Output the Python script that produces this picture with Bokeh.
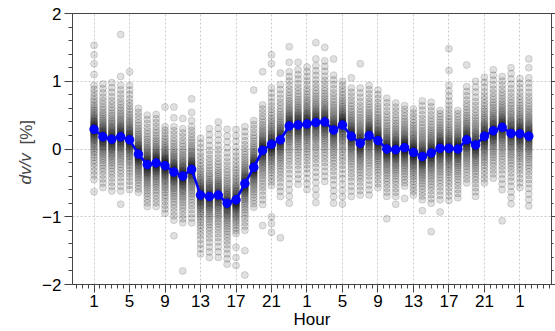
import numpy as np
from bokeh.plotting import figure
from bokeh.models import FixedTicker, LinearAxis, Range1d, Label, ColumnDataSource
from bokeh.embed import file_html
from bokeh.resources import INLINE

# ---------------- data ----------------
hour_of_day = list(range(1, 25)) + list(range(1, 25)) + [1, 2]

mean_dvv = [0.29, 0.18, 0.145, 0.18, 0.135, -0.075, -0.23, -0.205, -0.245, -0.34,
            -0.40, -0.30, -0.68, -0.70, -0.68, -0.80, -0.75, -0.51, -0.27, -0.02,
            0.07, 0.135, 0.34, 0.355, 0.37, 0.39, 0.40, 0.28, 0.355, 0.19,
            0.085, 0.20, 0.125, 0.0, -0.01, 0.02, -0.05, -0.11, -0.06, 0.01,
            0.01, 0.0, 0.135, 0.06, 0.19, 0.27, 0.32, 0.23, 0.225, 0.19]

core_hi = [0.94, 0.96, 0.98, 0.94, 0.94, 0.60, 0.50, 0.51, 0.33, 0.33,
           0.30, 0.33, 0.16, 0.30, 0.40, 0.29, 0.29, 0.33, 0.42, 0.65,
           0.90, 0.95, 1.14, 1.17, 1.14, 1.23, 1.30, 1.09, 0.94, 0.90,
           0.90, 0.94, 0.87, 0.75, 0.68, 0.64, 0.59, 0.71, 0.69, 0.57,
           0.94, 0.57, 0.92, 1.00, 1.06, 1.17, 1.07, 1.20, 1.04, 1.05]

core_lo = [-0.45, -0.57, -0.62, -0.62, -0.60, -0.64, -0.85, -0.85, -0.95, -1.05,
           -1.09, -1.09, -1.55, -1.60, -1.60, -1.70, -1.25, -1.20, -0.86, -0.82,
           -0.54, -0.70, -0.80, -0.52, -0.60, -0.79, -0.48, -0.80, -0.81, -0.70,
           -0.68, -0.68, -0.57, -0.70, -0.70, -0.55, -0.68, -0.75, -0.80, -0.75,
           -0.76, -0.72, -0.50, -0.70, -0.50, -0.43, -0.60, -0.81, -0.57, -0.84]

# density profile of the daily samples inside each hour's band (fraction of band half-width)
spread_profile = [0.0, 0.01, 0.02, 0.03, 0.04, 0.05, 0.06, 0.08, 0.09, 0.11, 0.12,
                  0.14, 0.16, 0.18, 0.2, 0.22, 0.25, 0.28, 0.31, 0.34, 0.38, 0.42,
                  0.46, 0.51, 0.56, 0.62, 0.68, 0.75, 0.83, 0.91, 1.0]

outlier_col = [0, 0, 0, 0, 0, 3, 3, 3, 4, 8, 9, 9, 9, 10, 10, 11, 11, 11,
               16, 16, 16, 17, 17, 18, 19, 19, 20, 20, 20, 20, 20, 21, 21,
               22, 22, 23, 24, 25, 25, 26, 27, 28, 29, 30,
               33, 34, 35, 37, 38, 39, 40, 40, 42, 46, 49, 49]
outlier_val = [1.53, 1.39, 1.26, 1.10, -0.63, 1.69, 1.07, -0.815, 1.14, 0.62, 0.62, 0.46, -1.28,
               0.45, -1.80, 0.74, 0.54, 0.42,
               -1.45, -1.60, -1.72, -1.50, -1.86, 0.87, 1.14, -1.13, 1.39, 1.26, -1.0, -1.1, -1.23,
               1.12, -1.31, 1.51, 1.28, 1.28, 1.21, 1.57, 1.33, 1.50, 1.33, 1.0, 1.05, 1.26,
               -1.03, -0.815, -0.73, -0.91, -1.22, -0.93, 1.48, 1.16, 1.24, -1.06, 1.33, 1.2]

tick_labels = ["1", "5", "9", "13", "17", "21", "1", "5", "9", "13", "17", "21", "1"]
y_ticks = [-2, -1, 0, 1, 2]
y_tick_labels = ["\u22122", "\u22121", "0", "1", "2"]

# ---------------- build ----------------
xs = list(range(len(mean_dvv)))
sx, sy = [], []
for i, m in enumerate(mean_dvv):
    for f in spread_profile:
        sx.append(i); sy.append(m + f * (core_hi[i] - m))
        sx.append(i); sy.append(m - f * (m - core_lo[i]))
for c, v in zip(outlier_col, outlier_val):
    sx.append(c); sy.append(v)

FONT = "Liberation Sans"

p = figure(width=555, height=331, output_backend="svg", toolbar_location=None,
           x_range=Range1d(-2.43, 51.56), y_range=Range1d(-2, 2),
           min_border_left=72, min_border_right=0, min_border_top=13, min_border_bottom=0)

p.scatter(sx, sy, size=7, fill_color="black", fill_alpha=0.12,
          line_color="black", line_alpha=0.17, line_width=0.8)

src = ColumnDataSource(dict(x=xs, y=mean_dvv, hour=hour_of_day))
p.line("x", "y", source=src, line_color="#0000ff", line_width=2.6)
p.scatter("x", "y", source=src, size=8.5, fill_color="#0000ff", line_color="#0000ff")

major_x = list(range(0, 49, 4))
minor_x = list(np.arange(-2, 52, 4 / 6))
p.xaxis.ticker = FixedTicker(ticks=major_x, minor_ticks=minor_x)
p.xaxis.major_label_overrides = {t: lab for t, lab in zip(major_x, tick_labels)}
p.xaxis.axis_label = "Hour"

yt = FixedTicker(ticks=y_ticks, minor_ticks=list(np.round(np.arange(-2, 2.01, 0.2), 2)))
p.yaxis.ticker = yt
p.yaxis.major_label_overrides = {t: lab for t, lab in zip(y_ticks, y_tick_labels)}

right = LinearAxis(ticker=yt, major_label_overrides={t: "" for t in y_ticks},
                   major_label_standoff=0)
p.add_layout(right, "right")

for ax in [p.xaxis[0], p.yaxis[0], right]:
    ax.axis_line_color = "#444444"
    ax.major_tick_line_color = "#444444"
    ax.minor_tick_line_color = "#444444"
    ax.major_tick_in = 0
    ax.minor_tick_in = 0
    ax.major_tick_out = 8
    ax.minor_tick_out = 4
    ax.major_label_text_font = FONT
    ax.major_label_text_font_size = "17px"
    ax.major_label_text_color = "black"
    ax.axis_label_text_font = FONT
    ax.axis_label_text_font_size = "17px"
    ax.axis_label_text_font_style = "normal"
    ax.axis_label_text_color = "black"
p.xaxis.major_label_standoff = 2
p.xaxis.axis_label_standoff = 0
p.yaxis.major_label_standoff = 3
right.major_label_text_font_size = "1px"
right.major_tick_out = 4
right.minor_tick_out = 2

p.xgrid.ticker = FixedTicker(ticks=major_x)
p.ygrid.ticker = FixedTicker(ticks=y_ticks)
for g in [p.xgrid[0], p.ygrid[0]]:
    g.grid_line_color = "#bdbdbd"
    g.grid_line_dash = "2 2"
    g.grid_line_width = 0.8

p.outline_line_color = "#444444"
p.outline_line_width = 1

# y-axis title: italic "dv/v" followed by upright "[%]", placed in the left panel
p.add_layout(Label(x=5, y=100, x_units="screen", y_units="screen", text="dv/v",
                   angle=np.pi / 2, text_align="left", text_baseline="middle",
                   text_font=FONT, text_font_size="17px", text_font_style="italic"), "left")
p.add_layout(Label(x=25, y=140, x_units="screen", y_units="screen", text="[%]",
                   angle=np.pi / 2, text_align="left", text_baseline="middle",
                   text_font=FONT, text_font_size="17px"), "left")

open("out.html", "w").write(file_html(p, INLINE))
